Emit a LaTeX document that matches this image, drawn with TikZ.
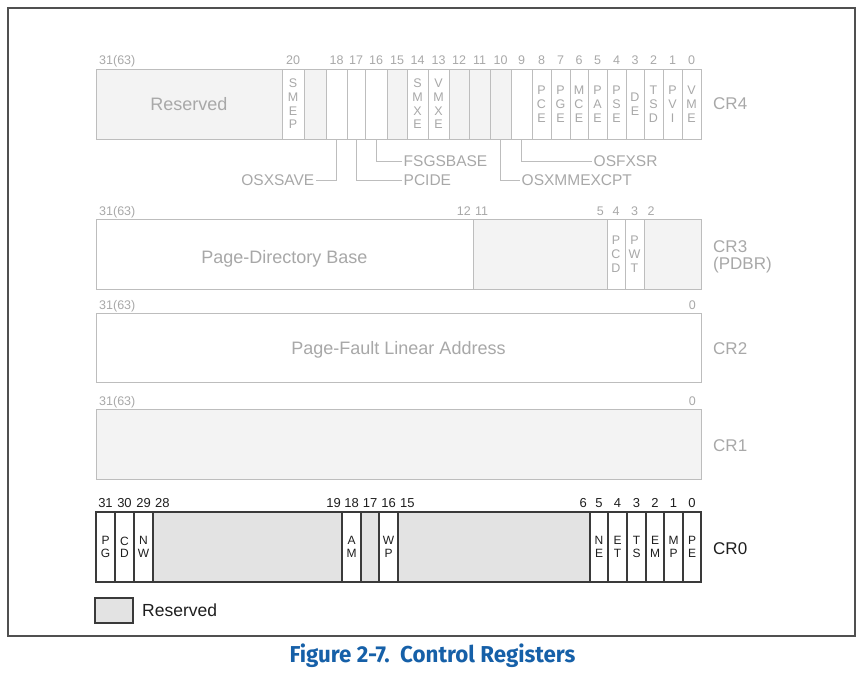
\documentclass[tikz,border=0pt]{standalone}
\usepackage{fontspec}
\setmainfont{Liberation Sans}
\newfontfamily\capfont{Fira Sans}
\definecolor{lgline}{HTML}{BDBDBD}
\definecolor{lgtext}{HTML}{A8A8A8}
\definecolor{lgfill}{HTML}{F3F3F3}
\definecolor{dkline}{HTML}{3A3A3A}
\definecolor{dkfill}{HTML}{E3E3E3}
\definecolor{dktext}{HTML}{1E1E1E}
\definecolor{capblue}{HTML}{1660A8}
\definecolor{frame}{HTML}{505050}
% name, x1, x2, y1, y2, style, text
\newcommand\regcell[7]{%
  \node[#6, minimum width={(#3-#2)*1pt}, minimum height={(#5-#4)*1pt}] (#1) at ({(#2+#3)/2},{(#4+#5)/2}) {#7};}
\tikzset{
  fcell/.style={draw=lgline, fill=white, line width=0.8pt, inner sep=0pt, font=\fontsize{12.5}{13.7}\selectfont, text=lgtext, align=center},
  fres/.style={fcell, fill=lgfill},
  dcell/.style={draw=dkline, fill=white, line width=1.1pt, inner sep=0pt, font=\fontsize{12}{12.3}\selectfont, text=dktext, align=center},
  dres/.style={dcell, fill=dkfill},
  fnum/.style={font=\fontsize{12.5}{14}\selectfont, text=lgtext, inner sep=0pt},
  dnum/.style={font=\fontsize{13}{14}\selectfont, text=dktext, inner sep=0pt},
  flabel/.style={font=\fontsize{17}{17.5}\selectfont, text=lgtext, align=left, inner sep=0pt, anchor=west},
  big/.style={font=\fontsize{18}{20}\selectfont, text depth=0pt},
  leadtxt/.style={font=\fontsize{15.5}{18}\selectfont, text=lgtext, inner sep=1.5pt},
  lead/.style={draw=lgline, line width=0.9pt},
}
\begin{document}
\begin{tikzpicture}[x=1pt,y=-1pt]
\useasboundingbox (0,0) rectangle (864,674);
\draw[frame, line width=1.2pt] (8,8) rectangle (855,636);

% ---------- CR4 ----------
\regcell{res4}{96}{282}{69}{139}{fres,big}{Reserved}
\regcell{smep}{282}{304}{69}{139}{fcell}{S\\M\\E\\P}
\regcell{b19}{304}{326}{69}{139}{fres}{}
\regcell{b18}{326}{347}{69}{139}{fcell}{}
\regcell{b17}{347}{365}{69}{139}{fcell}{}
\regcell{b16}{365}{387}{69}{139}{fcell}{}
\regcell{b15}{387}{407}{69}{139}{fres}{}
\regcell{smxe}{407}{428}{69}{139}{fcell}{S\\M\\X\\E}
\regcell{vmxe}{428}{449}{69}{139}{fcell}{V\\M\\X\\E}
\regcell{b12}{449}{469}{69}{139}{fres}{}
\regcell{b11}{469}{490}{69}{139}{fres}{}
\regcell{b10}{490}{511}{69}{139}{fres}{}
\regcell{b9}{511}{532}{69}{139}{fcell}{}
\regcell{pce}{532}{551}{69}{139}{fcell}{P\\C\\E}
\regcell{pge}{551}{570}{69}{139}{fcell}{P\\G\\E}
\regcell{mce}{570}{588}{69}{139}{fcell}{M\\C\\E}
\regcell{pae}{588}{607}{69}{139}{fcell}{P\\A\\E}
\regcell{pse}{607}{626}{69}{139}{fcell}{P\\S\\E}
\regcell{de}{626}{644}{69}{139}{fcell}{D\\E}
\regcell{tsd}{644}{663}{69}{139}{fcell}{T\\S\\D}
\regcell{pvi}{663}{682}{69}{139}{fcell}{P\\V\\I}
\regcell{vme}{682}{701}{69}{139}{fcell}{V\\M\\E}

\node[fnum, anchor=base west] (n4a) at (99,65) {31(63)};
\node[fnum, anchor=base] (n4b) at (293,65) {20};
\node[fnum, anchor=base] (n4c) at (336.5,65) {18};
\node[fnum, anchor=base] (n4d) at (356,65) {17};
\node[fnum, anchor=base] (n4e) at (376,65) {16};
\node[fnum, anchor=base] (n4f) at (397,65) {15};
\node[fnum, anchor=base] (n4g) at (417.5,65) {14};
\node[fnum, anchor=base] (n4h) at (438.5,65) {13};
\node[fnum, anchor=base] (n4i) at (459,65) {12};
\node[fnum, anchor=base] (n4j) at (479.5,65) {11};
\node[fnum, anchor=base] (n4k) at (500.5,65) {10};
\node[fnum, anchor=base] (n4l) at (521.5,65) {9};
\node[fnum, anchor=base] (n4m) at (541.5,65) {8};
\node[fnum, anchor=base] (n4n) at (560.5,65) {7};
\node[fnum, anchor=base] (n4o) at (579,65) {6};
\node[fnum, anchor=base] (n4p) at (597.5,65) {5};
\node[fnum, anchor=base] (n4q) at (616.5,65) {4};
\node[fnum, anchor=base] (n4r) at (635,65) {3};
\node[fnum, anchor=base] (n4s) at (653.5,65) {2};
\node[fnum, anchor=base] (n4t) at (672.5,65) {1};
\node[fnum, anchor=base] (n4u) at (691.5,65) {0};
\node[flabel] (cr4) at (713,104) {CR4};

% leaders
\node[leadtxt, anchor=east] (osxsave) at (316,180) {OSXSAVE};
\node[leadtxt, anchor=west] (pcide) at (402,180) {PCIDE};
\node[leadtxt, anchor=west] (fsgs) at (402,161) {FSGSBASE};
\node[leadtxt, anchor=west] (osxmm) at (520,180) {OSXMMEXCPT};
\node[leadtxt, anchor=west] (osfx) at (592,161) {OSFXSR};
\draw[lead] (b18.south) |- (osxsave.east);
\draw[lead] (b17.south) |- (pcide.west);
\draw[lead] (b16.south) |- (fsgs.west);
\draw[lead] (b10.south) |- (osxmm.west);
\draw[lead] (b9.south) |- (osfx.west);

% ---------- CR3 ----------
\regcell{pdb}{96}{473}{219}{289}{fcell,big}{}
\node[fcell, big, draw=none, fill=none, anchor=base] (pdbtxt) at (284.5,263.5) {Page-Directory Base};
\regcell{r3a}{473}{607}{219}{289}{fres}{}
\regcell{pcd}{607}{625}{219}{289}{fcell}{P\\C\\D}
\regcell{pwt}{625}{644}{219}{289}{fcell}{P\\W\\T}
\regcell{r3b}{644}{701}{219}{289}{fres}{}
\node[fnum, anchor=base west] (n3a) at (99,215.5) {31(63)};
\node[fnum, anchor=base east] (n3b) at (471,215.5) {12};
\node[fnum, anchor=base west] (n3c) at (475,215.5) {11};
\node[fnum, anchor=base east] (n3d) at (604,215.5) {5};
\node[fnum, anchor=base] (n3e) at (616,215.5) {4};
\node[fnum, anchor=base] (n3f) at (634.5,215.5) {3};
\node[fnum, anchor=base west] (n3g) at (647.5,215.5) {2};
\node[flabel] (cr3) at (713,257) {CR3\\(PDBR)};

% ---------- CR2 ----------
\regcell{pfla}{96}{701}{313}{382}{fcell,big}{}
\node[fcell, big, draw=none, fill=none, anchor=base] (pflatxt) at (398.5,354.5) {Page-Fault Linear Address};
\node[fnum, anchor=base west] (n2a) at (99,309.5) {31(63)};
\node[fnum, anchor=base east] (n2b) at (696,309.5) {0};
\node[flabel] (cr2) at (713,349) {CR2};

% ---------- CR1 ----------
\regcell{cr1box}{96}{701}{409}{479}{fres}{}
\node[fnum, anchor=base west] (n1a) at (99,405) {31(63)};
\node[fnum, anchor=base east] (n1b) at (696,405) {0};
\node[flabel] (cr1) at (713,446) {CR1};

% ---------- CR0 ----------
\regcell{pg}{96}{115}{512}{582}{dcell}{P\\G}
\regcell{cd}{115}{134}{512}{582}{dcell}{C\\D}
\regcell{nw}{134}{153}{512}{582}{dcell}{N\\W}
\regcell{r0a}{153}{342}{512}{582}{dres}{}
\regcell{am}{342}{361}{512}{582}{dcell}{A\\M}
\regcell{r0b}{361}{379}{512}{582}{dres}{}
\regcell{wp}{379}{398}{512}{582}{dcell}{W\\P}
\regcell{r0c}{398}{590}{512}{582}{dres}{}
\regcell{ne}{590}{608}{512}{582}{dcell}{N\\E}
\regcell{et}{608}{627}{512}{582}{dcell}{E\\T}
\regcell{ts}{627}{646}{512}{582}{dcell}{T\\S}
\regcell{em}{646}{664}{512}{582}{dcell}{E\\M}
\regcell{mp}{664}{683}{512}{582}{dcell}{M\\P}
\regcell{pe}{683}{701}{512}{582}{dcell}{P\\E}
\node[dnum, anchor=base] (n0a) at (105.5,507) {31};
\node[dnum, anchor=base] (n0b) at (124.5,507) {30};
\node[dnum, anchor=base] (n0c) at (143.5,507) {29};
\node[dnum, anchor=base west] (n0d) at (155,507) {28};
\node[dnum, anchor=base east] (n0e) at (341,507) {19};
\node[dnum, anchor=base] (n0f) at (351.5,507) {18};
\node[dnum, anchor=base] (n0g) at (370,507) {17};
\node[dnum, anchor=base] (n0h) at (388.5,507) {16};
\node[dnum, anchor=base west] (n0i) at (400,507) {15};
\node[dnum, anchor=base east] (n0j) at (587,507) {6};
\node[dnum, anchor=base] (n0k) at (599,507) {5};
\node[dnum, anchor=base] (n0l) at (617.5,507) {4};
\node[dnum, anchor=base] (n0m) at (636.5,507) {3};
\node[dnum, anchor=base] (n0n) at (655,507) {2};
\node[dnum, anchor=base] (n0o) at (673.5,507) {1};
\node[dnum, anchor=base] (n0p) at (692,507) {0};
\node[flabel, text=dktext] (cr0) at (713,548.5) {CR0};

% ---------- legend ----------
\regcell{legbox}{95}{133}{598}{623}{dres}{}
\node[font=\fontsize{17.5}{20}\selectfont, text=dktext, anchor=west, inner sep=0pt] (legtxt) at (142,610.5) {Reserved};

% ---------- caption ----------
\node[font=\capfont\bfseries\fontsize{23}{26}\selectfont, text=capblue, inner sep=0pt, xscale=0.97] (caption) at (432.5,656) {Figure 2-7.\ \ Control Registers};
\end{tikzpicture}
\end{document}
